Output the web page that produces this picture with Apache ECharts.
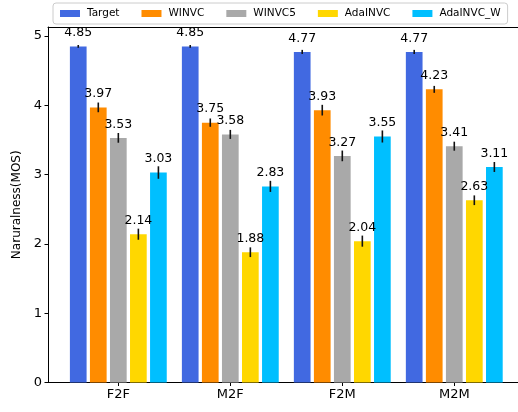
<!DOCTYPE html>
<html lang="en">
<head>
<meta charset="utf-8">
<title>Naturalness MOS</title>
<style>
html, body {
  margin: 0;
  background: #fff;
}
#chart {
  width: 518px;
  height: 412px;
}
</style>
</head>
<body>
<div id="chart"></div>
<script src="https://cdn.jsdelivr.net/npm/echarts@6/dist/echarts.min.js"></script>
<script>
var categories = ['F2F', 'M2F', 'F2M', 'M2M'];
var systems = ['Target', 'WINVC', 'WINVC5', 'AdaINVC', 'AdaINVC_W'];
var colors = ['#4169E1', '#FF8C00', '#A9A9A9', '#FFD700', '#00BFFF'];

var target    = [4.85, 4.85, 4.77, 4.77];
var winvc     = [3.97, 3.75, 3.93, 4.23];
var winvc5    = [3.53, 3.58, 3.27, 3.41];
var adainvc   = [2.14, 1.88, 2.04, 2.63];
var adainvcW  = [3.03, 2.83, 3.55, 3.11];

var targetErr   = [0.02, 0.02, 0.03, 0.03];
var winvcErr    = [0.07, 0.06, 0.077, 0.05];
var winvc5Err   = [0.07, 0.065, 0.077, 0.065];
var adainvcErr  = [0.08, 0.07, 0.08, 0.07];
var adainvcWErr = [0.09, 0.08, 0.087, 0.072];

var yTicks = [0, 1, 2, 3, 4, 5];

var values = [target, winvc, winvc5, adainvc, adainvcW];
var errors = [targetErr, winvcErr, winvc5Err, adainvcErr, adainvcWErr];

var BAR_W = 16.7;
var BAR_STEP = 20.04;

var series = systems.map(function (name, s) {
  return {
    name: name,
    type: 'bar',
    barWidth: BAR_W,
    barGap: '20%',
    itemStyle: { color: colors[s] },
    label: {
      show: true,
      position: 'top',
      distance: 7,
      color: '#000',
      fontSize: 12.5,
      fontFamily: 'DejaVu Sans',
      formatter: function (p) { return p.value[1].toFixed(2); }
    },
    data: values[s].map(function (v, i) { return [i, v]; })
  };
});

var errData = [];
values.forEach(function (vals, s) {
  vals.forEach(function (v, i) {
    errData.push([i, v, errors[s][i], s]);
  });
});

series.push({
  type: 'custom',
  z: 5,
  silent: true,
  renderItem: function (params, api) {
    var i = api.value(0), v = api.value(1), e = api.value(2), s = api.value(3);
    var lo = api.coord([i, v - e]);
    var hi = api.coord([i, v + e]);
    var x = lo[0] + (s - 2) * BAR_STEP;
    return {
      type: 'line',
      shape: { x1: x, y1: lo[1], x2: x, y2: hi[1] },
      style: { stroke: '#111', lineWidth: 1.6 }
    };
  },
  data: errData
});

var chart = echarts.init(document.getElementById('chart'));
chart.setOption({
  animation: false,
  textStyle: { fontFamily: 'DejaVu Sans' },
  legend: {
    data: systems,
    left: 53,
    top: 3,
    padding: [5, 7],
    itemWidth: 20,
    itemHeight: 7,
    itemGap: 22,
    icon: 'rect',
    borderColor: '#ccc',
    borderWidth: 1,
    borderRadius: 3,
    backgroundColor: '#fff',
    textStyle: { fontSize: 10.5, color: '#000', padding: [0, 0, 0, 2] }
  },
  grid: { left: 48, right: 0, top: 27, bottom: 29.5 },
  xAxis: [{
    type: 'value',
    min: -0.628,
    max: 3.569,
    splitLine: { show: false },
    axisLine: { show: true, onZero: false, lineStyle: { color: '#000', width: 1 } },
    axisTick: { show: true, customValues: [0, 1, 2, 3], length: 3.5, lineStyle: { color: '#000' } },
    axisLabel: {
      customValues: [0, 1, 2, 3],
      color: '#000',
      fontSize: 13,
      margin: 6,
      formatter: function (v) { return categories[Math.round(v)]; }
    }
  }, {
    type: 'value',
    position: 'top',
    min: -0.628,
    max: 3.569,
    splitLine: { show: false },
    axisLine: { show: true, onZero: false, lineStyle: { color: '#000', width: 1 } },
    axisTick: { show: false },
    axisLabel: { show: false }
  }],
  yAxis: {
    type: 'value',
    min: 0,
    max: 5.13,
    name: 'Naruralness(MOS)',
    nameLocation: 'middle',
    nameGap: 22,
    nameTextStyle: { color: '#000', fontSize: 12 },
    splitLine: { show: false },
    axisLine: { show: true, onZero: false, lineStyle: { color: '#000', width: 1 } },
    axisTick: { show: true, customValues: yTicks, length: 3.5, lineStyle: { color: '#000' } },
    axisLabel: { customValues: yTicks, color: '#000', fontSize: 13, margin: 6 }
  },
  series: series
});
</script>
</body>
</html>
